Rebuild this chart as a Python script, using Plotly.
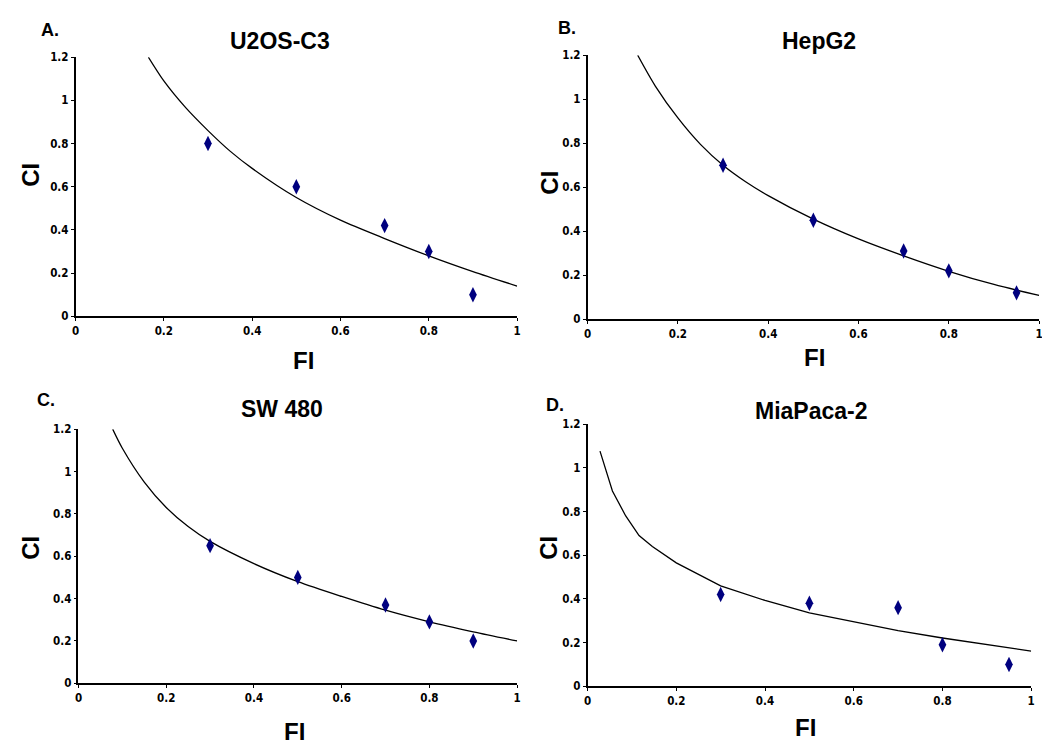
import plotly.graph_objects as go

# ---------------- data ----------------
panel_letters = ["A.", "B.", "C.", "D."]
panel_titles = ["U2OS-C3", "HepG2", "SW 480", "MiaPaca-2"]

# measured points (FI = fraction inhibited, CI = combination index)
a_fi = [0.3, 0.5, 0.7, 0.8, 0.9]
a_ci = [0.8, 0.6, 0.42, 0.3, 0.1]
b_fi = [0.3, 0.5, 0.7, 0.8, 0.95]
b_ci = [0.7, 0.45, 0.31, 0.22, 0.12]
c_fi = [0.3, 0.5, 0.7, 0.8, 0.9]
c_ci = [0.65, 0.5, 0.37, 0.29, 0.2]
d_fi = [0.3, 0.5, 0.7, 0.8, 0.95]
d_ci = [0.42, 0.38, 0.36, 0.19, 0.1]

# fitted curves
a_curve_fi = [0.165, 0.2, 0.25, 0.3, 0.35, 0.4, 0.5, 0.6, 0.7, 0.8, 0.9, 1.0]
a_curve_ci = [1.2, 1.09, 0.965, 0.86, 0.765, 0.685, 0.55, 0.445, 0.36, 0.28, 0.207, 0.14]
b_curve_fi = [0.111, 0.15, 0.2, 0.25, 0.3, 0.35, 0.4, 0.5, 0.6, 0.7, 0.8, 0.9, 1.0]
b_curve_ci = [1.2, 1.06, 0.915, 0.795, 0.70, 0.625, 0.562, 0.455, 0.365, 0.288, 0.218, 0.158, 0.108]
c_curve_fi = [0.078, 0.1, 0.15, 0.2, 0.25, 0.3, 0.4, 0.5, 0.6, 0.7, 0.8, 0.9, 1.0]
c_curve_ci = [1.2, 1.11, 0.95, 0.83, 0.74, 0.67, 0.565, 0.48, 0.41, 0.345, 0.29, 0.243, 0.20]
d_curve_fi = [0.028, 0.056, 0.086, 0.116, 0.146, 0.2, 0.3, 0.4, 0.5, 0.6, 0.7, 0.8, 0.9, 1.0]
d_curve_ci = [1.077, 0.894, 0.78, 0.69, 0.64, 0.565, 0.46, 0.393, 0.336, 0.296, 0.255, 0.221, 0.191, 0.161]

x_ticks = [0, 0.2, 0.4, 0.6, 0.8, 1]
x_ticklabels = ["0", "0.2", "0.4", "0.6", "0.8", "1"]
y_ticks = [0, 0.2, 0.4, 0.6, 0.8, 1, 1.2]
y_ticklabels = ["0", "0.2", "0.4", "0.6", "0.8", "1", "1.2"]
x_title = "FI"
y_title = "CI"

# ---------------- layout (pixel geometry) ----------------
W, H = 1050, 752
panels = [
    # x0, x1, ytop, ybottom  (pixels)
    dict(x0=64, x1=509, yt=43, yb=307),
    dict(x0=580, x1=1035, yt=41, yb=310),
    dict(x0=67, x1=509, yt=422, yb=681),
    dict(x0=580, x1=1027, yt=417, yb=684),
]
letter_pos = [(38, 15), (559, 13), (34, 392), (547, 397)]
title_pos = [(270, 27), (813, 27), (272, 401), (806, 404)]
ci_pos = [(19, 163), (542, 171), (19, 543), (541, 543)]
fi_pos = [(294, 352), (809, 349), (285, 730), (800, 726)]

points = [(a_fi, a_ci), (b_fi, b_ci), (c_fi, c_ci), (d_fi, d_ci)]
curves = [(a_curve_fi, a_curve_ci), (b_curve_fi, b_curve_ci),
          (c_curve_fi, c_curve_ci), (d_curve_fi, d_curve_ci)]
shapes_line = ["spline", "spline", "spline", "linear"]

fig = go.Figure()
tickfont = dict(family="Liberation Sans Narrow, Arial Narrow, DejaVu Sans Condensed, sans-serif",
                size=11.5, color="black", weight="bold")
bold_font = "Liberation Sans, Arial, sans-serif"

annotations = []
for i, p in enumerate(panels):
    sfx = "" if i == 0 else str(i + 1)
    xa, ya = "x" + sfx, "y" + sfx
    cx, cy = curves[i]
    fig.add_trace(go.Scatter(x=cx, y=cy, mode="lines", xaxis=xa, yaxis=ya,
                             line=dict(color="black", width=1.3, shape=shapes_line[i], smoothing=0.8),
                             showlegend=False, hoverinfo="skip"))
    px_, py_ = points[i]
    fig.add_trace(go.Scatter(x=px_, y=py_, mode="markers", xaxis=xa, yaxis=ya,
                             marker=dict(symbol="diamond-tall", size=11, color="#00007f",
                                         line=dict(width=0)),
                             showlegend=False))
    fig.layout["xaxis" + sfx] = dict(
        domain=[p["x0"] / W, p["x1"] / W], range=[0, 1], anchor=ya,
        tickvals=x_ticks, ticktext=x_ticklabels, ticks="outside", ticklen=3,
        tickwidth=1.2, tickcolor="black", showline=True, linecolor="black", linewidth=2,
        showgrid=False, zeroline=False, tickfont=tickfont, fixedrange=True)
    fig.layout["yaxis" + sfx] = dict(
        domain=[1 - p["yb"] / H, 1 - p["yt"] / H], range=[0, 1.2], anchor=xa,
        tickvals=y_ticks, ticktext=y_ticklabels, ticks="outside", ticklen=3,
        tickwidth=1.2, tickcolor="black", showline=True, linecolor="black", linewidth=1.5,
        showgrid=False, zeroline=False, tickfont=tickfont, fixedrange=True)

    common = dict(xref="paper", yref="paper", showarrow=False,
                  xanchor="center", yanchor="middle")
    lx, ly = letter_pos[i]
    annotations.append(dict(text="<b>%s</b>" % panel_letters[i], x=lx / W, y=1 - ly / H,
                            font=dict(family=bold_font, size=18, color="black"), **common))
    tx, ty = title_pos[i]
    annotations.append(dict(text="<b>%s</b>" % panel_titles[i], x=tx / W, y=1 - ty / H,
                            font=dict(family=bold_font, size=23, color="black"), **common))
    cx_, cy_ = ci_pos[i]
    annotations.append(dict(text="<b>%s</b>" % y_title, x=cx_ / W, y=1 - cy_ / H, textangle=-90,
                            font=dict(family=bold_font, size=24, color="black"), **common))
    fx, fy = fi_pos[i]
    annotations.append(dict(text="<b>%s</b>" % x_title, x=fx / W, y=1 - fy / H,
                            font=dict(family=bold_font, size=24, color="black"), **common))

fig.update_layout(width=W, height=H, margin=dict(l=0, r=0, t=0, b=0),
                  paper_bgcolor="white", plot_bgcolor="white",
                  annotations=annotations, showlegend=False)

fig.write_html("out.html")
